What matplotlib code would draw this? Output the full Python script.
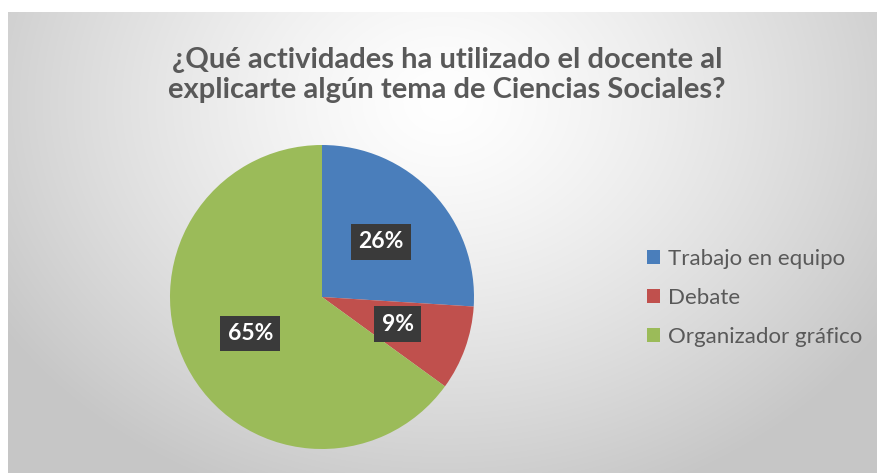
import numpy as np
import matplotlib
matplotlib.use("Agg")
import matplotlib.pyplot as plt
from matplotlib.patches import Patch

title = "¿Qué actividades ha utilizado el docente al\nexplicarte algún tema de Ciencias Sociales?"
categories = ["Trabajo en equipo", "Debate", "Organizador gráfico"]
values = [26, 9, 65]
colors = ["#4a7ebb", "#c0504d", "#9bbb59"]

plt.rcParams['font.family'] = ['Lato', 'DejaVu Sans']

W, H = 878, 473
fig = plt.figure(figsize=(W / 100, H / 100), dpi=100)
fig.patch.set_facecolor("white")

# chart area with radial gray gradient
x0, y0 = 8, 12
bg = fig.add_axes([x0 / W, 0, (W - x0) / W, (H - y0) / H])
yy, xx = np.mgrid[0:H - y0, 0:W - x0]
cx, cy = (W - x0) / 2, 90
d = np.sqrt(((xx - cx) / 520) ** 2 + ((yy - cy) / 420) ** 2)
shade = 1.0 - 0.22 * np.clip(d, 0, 1) ** 1.3
img = np.dstack([shade, shade, shade])
bg.imshow(img, aspect="auto", interpolation="bilinear")
bg.axis("off")

# pie
cxp, cyp, r = 322, 297, 152
ax = fig.add_axes([(cxp - r) / W, (H - cyp - r) / H, 2 * r / W, 2 * r / H])
wedges, texts, autotexts = ax.pie(
    values, colors=colors, startangle=90, counterclock=False,
    autopct="%d%%", pctdistance=0.53,
    wedgeprops=dict(linewidth=0))
for t in autotexts:
    t.set_color("white")
    t.set_fontsize(16.5)
    t.set_fontweight("bold")
    t.set_bbox(dict(boxstyle="square,pad=0.32", facecolor="#3a3a3a", edgecolor="none"))
ax.set_xlim(-1, 1)
ax.set_ylim(-1, 1)
ax.axis("off")

fig.text(447 / W, 1 - 75 / H, title, ha="center", va="center", fontsize=21,
         fontweight="bold", color="#595959", linespacing=1.2)

handles = [Patch(facecolor=c, edgecolor="none") for c in colors]
leg = fig.legend(handles, categories, loc="center left",
                 bbox_to_anchor=(647 / W, 1 - 298 / H), frameon=False,
                 borderpad=0, borderaxespad=0,
                 fontsize=16, labelcolor="#595959", handlelength=0.6,
                 handleheight=0.6, handletextpad=0.36, labelspacing=0.85)

fig.savefig("out.png", dpi=100)
